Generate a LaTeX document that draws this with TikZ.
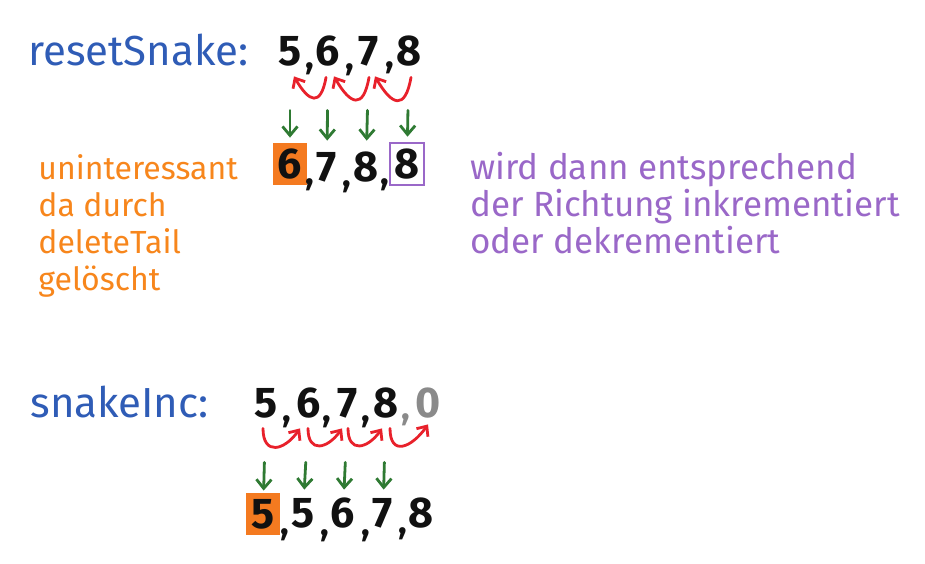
\documentclass[tikz,border=0pt]{standalone}
\usepackage{fontspec}
\setmainfont{Fira Sans}
\usetikzlibrary{
  arrows.meta,
  positioning
}
\definecolor{ink}{HTML}{111111}
\definecolor{headblue}{HTML}{2F5CB6}
\definecolor{noteorange}{HTML}{F7861C}
\definecolor{boxorange}{HTML}{F47A20}
\definecolor{notepurple}{HTML}{9A68C8}
\definecolor{shiftred}{HTML}{E8212B}
\definecolor{copygreen}{HTML}{2F7A33}
\definecolor{ghost}{HTML}{8A8A8A}
\tikzset{
  heading/.style={
    text=headblue,
    anchor=west,
    inner sep=0pt,
    font=\fontsize{21}{24}\selectfont
  },
  digit/.style={
    text=ink,
    inner sep=0pt,
    minimum width=17pt,
    minimum height=21pt,
    font=\fontsize{21.5}{24}\selectfont\bfseries
  },
  sep/.style={
    text=ink,
    inner sep=0pt,
    font=\fontsize{18}{20}\selectfont\bfseries
  },
  dropped/.style={
    digit,
    fill=boxorange
  },
  tracked/.style={
    digit,
    draw=notepurple,
    line width=1.3pt
  },
  shiftback/.style={
    -{Straight Barb[length=4pt,width=7pt]},
    line width=1.4pt,
    line cap=round,
    draw=shiftred
  },
  copydown/.style={
    -{Straight Barb[length=4.5pt,width=7.5pt]},
    line width=1.4pt,
    line cap=round,
    draw=copygreen
  },
  note/.style={
    anchor=north west,
    align=left,
    inner sep=0pt
  }
}

\begin{document}
\begin{tikzpicture}[x=0.5pt, y=-0.5pt]
  \useasboundingbox (0,0) rectangle (925,563);

  % resetSnake
  \node[heading] (resethead) at (28,50) {resetSnake:};
  \node[digit] (rin1) at (290,51) {5};
  \node[sep] (rinsep1) at (310,69) {,};
  \node[digit] (rin2) at (328,51) {6};
  \node[sep] (rinsep2) at (350,70) {,};
  \node[digit] (rin3) at (369,51) {7};
  \node[sep] (rinsep3) at (390,68) {,};
  \node[digit] (rin4) at (409,51) {8};

  \node[dropped] (rout1) at (290,164) {6};
  \node[sep] (routsep1) at (310,185) {,};
  \node[digit] (rout2) at (327,167) {7};
  \node[sep] (routsep2) at (347,187) {,};
  \node[digit] (rout3) at (366,167) {8};
  \node[sep] (routsep3) at (385,185) {,};
  \node[tracked] (rout4) at (407,164) {8};

  \draw[shiftback] ([xshift=-1pt,yshift=-2.5pt]rin2.south)
    to[out=-100, in=-60, looseness=2.4] ([xshift=2pt,yshift=-2pt]rin1.south);
  \draw[shiftback] ([xshift=0pt,yshift=-2.5pt]rin3.south)
    to[out=-100, in=-60, looseness=2.4] ([xshift=3pt,yshift=-2pt]rin2.south);
  \draw[shiftback] ([xshift=1pt,yshift=-2.5pt]rin4.south)
    to[out=-100, in=-60, looseness=2.4] ([xshift=3pt,yshift=-2pt]rin3.south);

  \draw[copydown, shorten <=19pt, shorten >=2.5pt] (rin1) -- (rout1);
  \draw[copydown, shorten <=19pt, shorten >=2.5pt] (rin2) -- (rout2);
  \draw[copydown, shorten <=19pt, shorten >=2.5pt] (rin3) -- (rout3);
  \draw[copydown, shorten <=19pt, shorten >=2.5pt] (rin4) -- (rout4);

  \node[note, text=noteorange, font=\fontsize{16}{18.5}\selectfont]
    (unusednote) at (38,154) {uninteressant\\da durch\\deleteTail\\gelöscht};
  \node[note, text=notepurple, font=\fontsize{17.5}{18.5}\selectfont]
    (dirnote) at (470,152) {wird dann entsprechend\\der Richtung inkrementiert\\oder dekrementiert};

  % snakeInc
  \node[heading] (inchead) at (30,402) {snakeInc:};
  \node[digit] (iin1) at (266,403) {5};
  \node[sep] (iinsep1) at (287,422) {,};
  \node[digit] (iin2) at (309,403) {6};
  \node[sep] (iinsep2) at (327,422) {,};
  \node[digit] (iin3) at (348,403) {7};
  \node[sep] (iinsep3) at (366,422) {,};
  \node[digit] (iin4) at (386,403) {8};
  \node[sep, text=ghost] (iinsep4) at (406,420) {,};
  \node[digit, text=ghost] (iin5) at (428,403) {0};

  \node[dropped] (iout1) at (263,514) {5};
  \node[sep] (ioutsep1) at (285,535) {,};
  \node[digit] (iout2) at (303,513) {5};
  \node[sep] (ioutsep2) at (325,536) {,};
  \node[digit] (iout3) at (343,513) {6};
  \node[sep] (ioutsep3) at (366,536) {,};
  \node[digit] (iout4) at (383,513) {7};
  \node[sep] (ioutsep4) at (403,534) {,};
  \node[digit] (iout5) at (421,513) {8};

  \draw[shiftback] ([xshift=-1.5pt,yshift=-2pt]iin1.south)
    to[out=-90, in=-125, looseness=1.9] ([xshift=-4.5pt,yshift=-2pt]iin2.south);
  \draw[shiftback] ([xshift=-0.5pt,yshift=-2pt]iin2.south)
    to[out=-90, in=-125, looseness=1.9] ([xshift=-3pt,yshift=-2pt]iin3.south);
  \draw[shiftback] ([xshift=0pt,yshift=-2pt]iin3.south)
    to[out=-90, in=-125, looseness=1.9] ([xshift=-2pt,yshift=-2pt]iin4.south);
  \draw[shiftback] ([xshift=2pt,yshift=-2pt]iin4.south)
    to[out=-90, in=-125, looseness=1.9] ([xshift=0pt,yshift=0pt]iin5.south);

  \draw[copydown, shorten <=19pt, shorten >=1pt] (iin1) -- (iout1);
  \draw[copydown, shorten <=19pt, shorten >=1pt] (iin2) -- (iout2);
  \draw[copydown, shorten <=19pt, shorten >=1pt] (iin3) -- (iout3);
  \draw[copydown, shorten <=19pt, shorten >=1pt] (iin4) -- (iout4);
\end{tikzpicture}
\end{document}
